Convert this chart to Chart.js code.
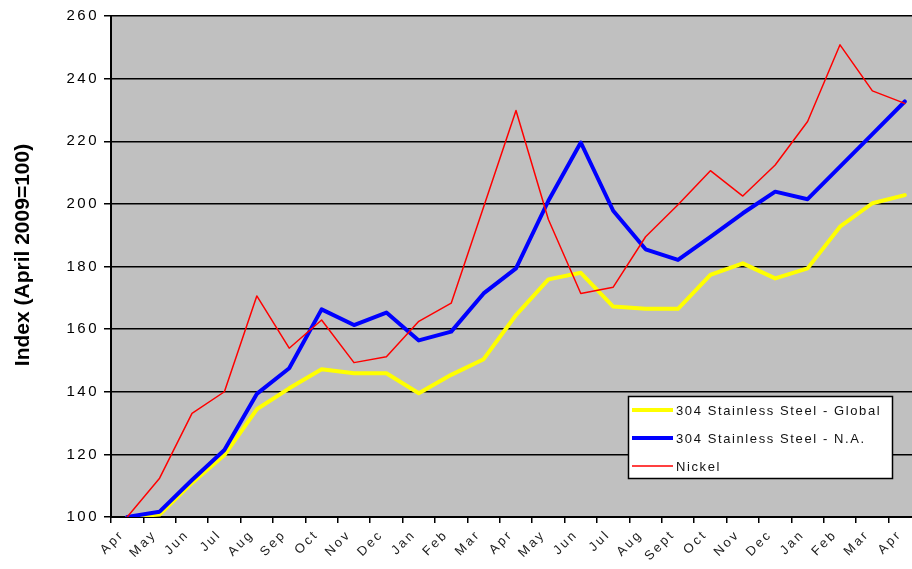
<!DOCTYPE html>
<html>
<head>
<meta charset="utf-8">
<script src="https://cdn.jsdelivr.net/npm/chart.js@4.4.1/dist/chart.umd.min.js"></script>
<style>
  html, body { margin: 0; padding: 0; background: #fff; overflow: hidden; }
  #wrap { width: 921px; height: 569px; position: relative; }
</style>
</head>
<body>
<div id="wrap"><canvas id="chart"></canvas></div>
<script>
// Monthly index values, April 2009 = 100
const months = ['Apr','May','Jun','Jul','Aug','Sep','Oct','Nov','Dec','Jan','Feb','Mar',
                'Apr','May','Jun','Jul','Aug','Sept','Oct','Nov','Dec','Jan','Feb','Mar','Apr'];

const stainlessGlobal = [100, 100.8, 110.9, 119.8, 134.4, 141.1, 147.2, 145.9, 145.9, 139.5, 145.4, 150.4,
                         164.5, 175.9, 178.0, 167.2, 166.5, 166.5, 177.3, 181.0, 176.2, 179.4, 192.7, 200.2, 202.8];

const stainlessNA = [100, 101.7, 111.8, 121.4, 139.3, 147.5, 166.3, 161.3, 165.3, 156.4, 159.2, 171.4,
                     179.4, 201.0, 219.6, 197.8, 185.5, 182.1, 189.5, 197.0, 203.9, 201.5, 211.9, 222.3, 232.7];

const nickel = [100, 112.4, 133.1, 140.0, 170.6, 153.9, 162.9, 149.3, 151.2, 162.5, 168.3, 199.0,
                229.8, 195.0, 171.4, 173.4, 189.5, 199.7, 210.6, 202.5, 212.4, 226.3, 250.8, 236.1, 232.1];

const yMin = 100, yMax = 260, yStep = 20;
const yTitle = 'Index (April 2009=100)';

// grey plot background + letter-spaced axis text
const plotBackground = {
  id: 'plotBackground',
  beforeDraw(chart) {
    const { ctx, chartArea: a } = chart;
    ctx.save();
    ctx.fillStyle = '#c0c0c0';
    ctx.fillRect(a.left, a.top, a.right - a.left, a.bottom - a.top);
    ctx.restore();
    ctx.letterSpacing = '2.5px';
  },
  beforeDatasetsDraw(chart) {
    chart.ctx.letterSpacing = '0px';
  }
};

// vertical axis title
const axisTitle = {
  id: 'axisTitle',
  afterDraw(chart) {
    const ctx = chart.ctx;
    ctx.save();
    ctx.translate(23, 255);
    ctx.rotate(-Math.PI / 2);
    ctx.font = 'bold 21px "Liberation Sans", Arial, sans-serif';
    ctx.fillStyle = '#000';
    ctx.textAlign = 'center';
    ctx.textBaseline = 'middle';
    ctx.fillText(yTitle, 0, 0);
    ctx.restore();
  }
};

// boxed legend inside the plot
const legendBox = {
  id: 'legendBox',
  afterDraw(chart) {
    const ctx = chart.ctx;
    const x = 628.5, y = 396.5, w = 264, h = 82;
    ctx.save();
    ctx.fillStyle = '#fff';
    ctx.fillRect(x, y, w, h);
    ctx.strokeStyle = '#000';
    ctx.lineWidth = 1.5;
    ctx.strokeRect(x, y, w, h);
    ctx.font = '13px "Liberation Sans", Arial, sans-serif';
    ctx.letterSpacing = '1.6px';
    ctx.textBaseline = 'middle';
    chart.data.datasets.forEach((ds, i) => {
      const ly = 410 + i * 28;
      ctx.beginPath();
      ctx.moveTo(632, ly);
      ctx.lineTo(673, ly);
      ctx.strokeStyle = ds.borderColor;
      ctx.lineWidth = ds.borderWidth;
      ctx.stroke();
      ctx.fillStyle = '#111';
      ctx.fillText(ds.label, 676, ly + 1);
    });
    ctx.restore();
  }
};

new Chart(document.getElementById('chart'), {
  type: 'line',
  data: {
    labels: months,
    datasets: [
      { label: '304 Stainless Steel - Global', data: stainlessGlobal, borderColor: '#ffff00', borderWidth: 4, order: 2 },
      { label: '304 Stainless Steel - N.A.', data: stainlessNA, borderColor: '#0000ff', borderWidth: 4, order: 1 },
      { label: 'Nickel', data: nickel, borderColor: '#ff0000', borderWidth: 1.5, order: 0 }
    ]
  },
  options: {
    responsive: true,
    maintainAspectRatio: false,
    animation: false,
    layout: { padding: { top: 16, left: 0, right: 0, bottom: 0 } },
    elements: {
      point: { radius: 0, hoverRadius: 0 },
      line: { tension: 0, fill: false, borderCapStyle: 'round', borderJoinStyle: 'round' }
    },
    plugins: { legend: { display: false }, tooltip: { enabled: false } },
    scales: {
      x: {
        offset: true,
        grid: { display: true, offset: true, drawOnChartArea: false, drawTicks: true, tickLength: 6, color: '#000', lineWidth: 1.5 },
        border: { display: true, color: '#000', width: 2 },
        ticks: {
          autoSkip: false, minRotation: 45, maxRotation: 45, padding: 4, labelOffset: -5,
          color: '#222', font: { family: '"Liberation Sans", Arial, sans-serif', size: 13 }
        },
        afterFit(scale) { scale.height = 52; }
      },
      y: {
        min: yMin, max: yMax,
        grid: { color: '#000', lineWidth: 1.5, drawTicks: true, tickLength: 7 },
        border: { display: true, color: '#000', width: 2 },
        ticks: {
          stepSize: yStep, padding: 5, color: '#000',
          font: { family: '"Liberation Sans", Arial, sans-serif', size: 15 }
        },
        afterFit(scale) { scale.width = 111; }
      }
    }
  },
  plugins: [plotBackground, axisTitle, legendBox]
});
</script>
</body>
</html>
